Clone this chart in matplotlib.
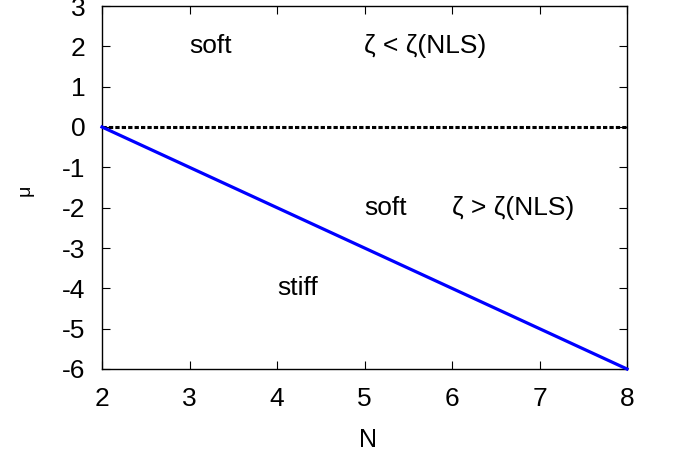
import matplotlib
matplotlib.use("Agg")
import matplotlib.pyplot as plt
import numpy as np

# data
line_N = [2, 8]
line_mu = [0, -6]
zero_N = [2, 8]
zero_mu = [0, 0]
xticks = [2, 3, 4, 5, 6, 7, 8]
yticks = [-6, -5, -4, -3, -2, -1, 0, 1, 2, 3]
labels = [
    (3.0, 2.0, "soft"),
    (5.0, 2.0, "ζ < ζ(NLS)"),
    (5.0, -2.0, "soft"),
    (6.0, -2.0, "ζ > ζ(NLS)"),
    (4.0, -4.0, "stiff"),
]

plt.rcParams['font.family'] = ['Liberation Sans', 'DejaVu Sans']
plt.rcParams['axes.unicode_minus'] = False
fig = plt.figure(figsize=(6.73, 4.58), dpi=100)
ax = fig.add_axes([102/673, 1-369/458, (627-102)/673, (369-6)/458])

ax.plot(zero_N, zero_mu, color='black', lw=2.2, dashes=(1.4, 0.7), zorder=2)
ax.plot(line_N, line_mu, color='#0000ff', lw=2.3, zorder=3, clip_on=False)

ax.set_xlim(2, 8)
ax.set_ylim(-6, 3)
ax.set_xticks(xticks)
ax.set_yticks(yticks)
ax.set_xticklabels([str(v) for v in xticks])
ax.set_yticklabels([str(v) for v in yticks])
ax.tick_params(direction='in', length=6, width=0.8, top=True, right=True,
               labelsize=19, pad=12)
ax.tick_params(axis='x', pad=13)
for s in ax.spines.values():
    s.set_linewidth(1.0)

for x, y, t in labels:
    ax.text(x, y, t, fontsize=19, ha='left', va='center')

fig.text(368/673, 1-440/458, "N", fontsize=18, ha='center', va='center')
fig.text(25/673, 1-190/458, "μ", fontsize=14, ha='center', va='center', rotation=90)

fig.savefig("out.png", dpi=100)
